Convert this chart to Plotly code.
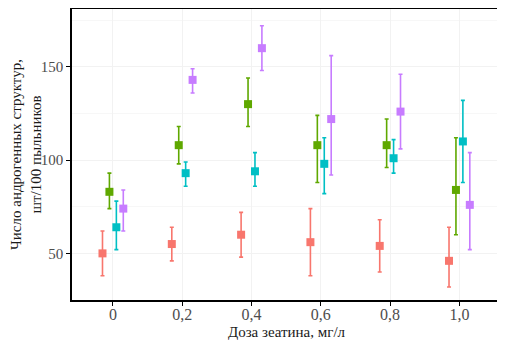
import plotly.graph_objects as go

doses = [0.0, 0.2, 0.4, 0.6, 0.8, 1.0]
tick_labels = ["0", "0,2", "0,4", "0,6", "0,8", "1,0"]

series_names = ["A", "B", "C", "D"]
colors = ["#F8766D", "#5FA800", "#00BFC4", "#C77CFF"]

means = [
    [50, 55, 60, 56, 54, 46],
    [83, 108, 130, 108, 108, 84],
    [64, 93, 94, 98, 101, 110],
    [74, 143, 160, 122, 126, 76],
]
err_up = [
    [12, 9, 12, 18, 14, 18],
    [10, 10, 14, 16, 14, 28],
    [14, 6, 10, 14, 10, 22],
    [10, 6, 12, 34, 20, 28],
]
err_down = [
    [12, 9, 12, 18, 14, 14],
    [9, 10, 12, 20, 12, 24],
    [12, 7, 8, 16, 8, 22],
    [12, 7, 12, 30, 20, 24],
]

dodge = [-0.03, -0.01, 0.01, 0.03]

fig = go.Figure()
for i, name in enumerate(series_names):
    fig.add_trace(go.Scatter(
        x=[d + dodge[i] for d in doses],
        y=means[i],
        mode="markers",
        name=name,
        marker=dict(symbol="square", size=8, color=colors[i]),
        error_y=dict(type="data", symmetric=False, array=err_up[i], arrayminus=err_down[i],
                     color=colors[i], thickness=1.6, width=2),
        showlegend=False,
    ))

FF = "Liberation Serif"
fig.update_layout(
    width=497, height=341,
    margin=dict(l=64, r=4, t=1, b=49),
    plot_bgcolor="white", paper_bgcolor="white",
    font=dict(family=FF, size=14, color="#1a1a1a"),
    showlegend=False,
)
fig.update_xaxes(
    automargin=False,
    range=[-0.118, 1.12],
    tickvals=doses, ticktext=tick_labels,
    ticks="outside", ticklen=4, tickcolor="black", tickwidth=1,
    ticklabelstandoff=-5,
    showline=True, linecolor="black", linewidth=1.5, mirror=True,
    showgrid=True, gridcolor="#F2F2F2", gridwidth=1,
    zeroline=False,
    title=dict(text="Доза зеатина, мг/л", font=dict(family=FF, size=15, color="#1a1a1a"), standoff=5),
    tickfont=dict(family=FF, size=16, color="#4d4d4d"),
)
fig.update_yaxes(
    automargin=False,
    range=[25, 181],
    tickvals=[50, 100, 150],
    ticks="outside", ticklen=4, tickcolor="black", tickwidth=1,
    showline=True, linecolor="black", linewidth=1.5, mirror=True,
    showgrid=True, gridcolor="#F2F2F2", gridwidth=1,
    minor=dict(tickvals=[25, 75, 125, 175], showgrid=True, gridcolor="#F7F7F7", gridwidth=0.6, ticks=""),
    zeroline=False,
    title=dict(text="Число андрогенных структур,<br>шт/100 пыльников", font=dict(family=FF, size=15, color="#1a1a1a"), standoff=10),
    tickfont=dict(family=FF, size=15, color="#4d4d4d"),
)

fig.write_html("out.html")
